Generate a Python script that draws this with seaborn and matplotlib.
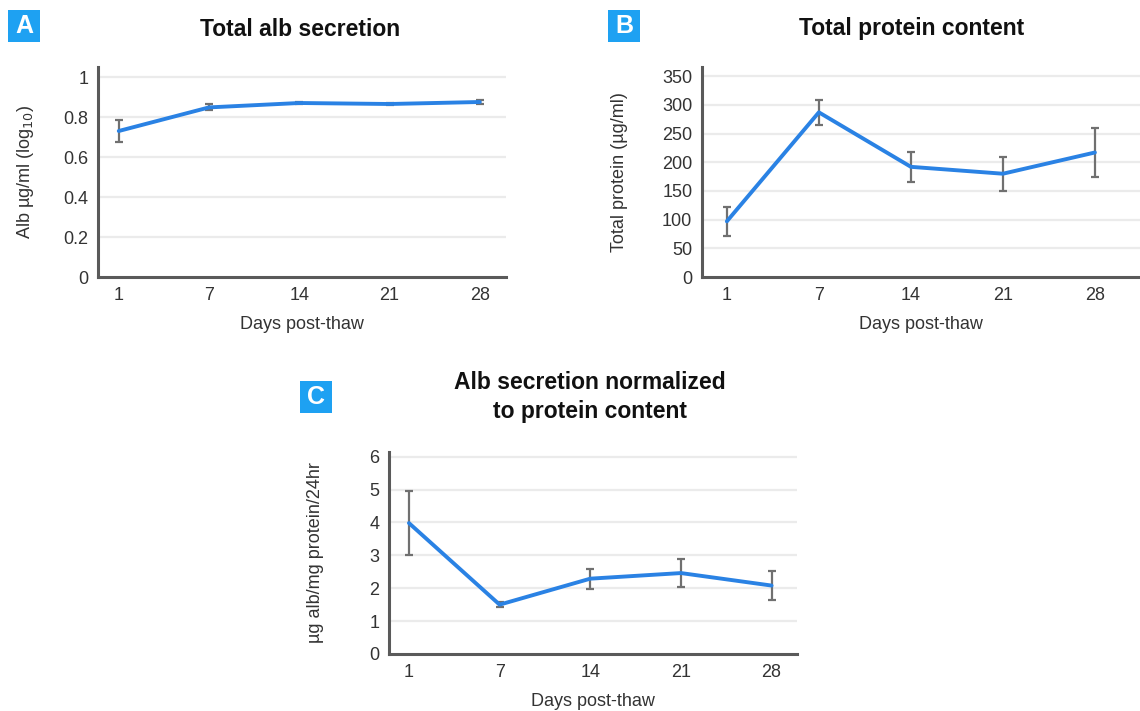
import seaborn as sns
import matplotlib.pyplot as plt
import pandas as pd

days = ['1', '7', '14', '21', '28']

alb_mean = [0.73, 0.848, 0.87, 0.865, 0.875]
alb_err = [0.055, 0.015, 0.004, 0.006, 0.012]

prot_mean = [97, 287, 192, 180, 217]
prot_err = [25, 22, 26, 30, 42]

norm_mean = [3.98, 1.5, 2.29, 2.46, 2.08]
norm_err = [0.98, 0.07, 0.3, 0.43, 0.44]

sns.set_theme(style='white')
plt.rcParams['font.family'] = ['Liberation Sans', 'DejaVu Sans']

W, H = 1140, 711
fig = plt.figure(figsize=(W / 100, H / 100), dpi=100)

line_col = '#2a82e4'
err_col = '#707070'
spine_col = '#5a5a5a'
text_col = '#333333'
box_col = '#1ea1f2'


def px_axes(left, top, right, bottom):
    return fig.add_axes([left / W, 1 - bottom / H, (right - left) / W, (bottom - top) / H])


def panel(ax, mean, err, yticks, ylim, xlim, ylabel, ylabel_x):
    df = pd.DataFrame({'day': days, 'val': mean})
    for t in yticks[1:]:
        ax.axhline(t, color='#ebebeb', lw=1.6, zorder=0)
    ax.errorbar(range(len(days)), mean, yerr=err, fmt='none', ecolor=err_col,
                elinewidth=1.6, capsize=3, capthick=1.6, zorder=2)
    sns.lineplot(data=df, x='day', y='val', ax=ax, color=line_col, lw=2.8,
                 sort=False, zorder=3)
    ax.set_xlim(*xlim)
    ax.set_ylim(*ylim)
    ax.set_yticks(yticks)
    ax.set_yticklabels([f'{t:g}' for t in yticks])
    for s in ['top', 'right']:
        ax.spines[s].set_visible(False)
    for s in ['left', 'bottom']:
        ax.spines[s].set_color(spine_col)
        ax.spines[s].set_linewidth(2.2)
    ax.tick_params(axis='both', length=0, labelsize=13, labelcolor=text_col, pad=7)
    ax.set_xlabel('Days post-thaw', fontsize=13, color=text_col, labelpad=9)
    ax.set_ylabel(ylabel, fontsize=13, color=text_col)
    ax.yaxis.set_label_coords(ylabel_x, 0.5)


def letter(txt, x0, y0, size=32):
    fig.patches.append(plt.Rectangle((x0 / W, 1 - (y0 + size) / H), size / W, size / H,
                                     transform=fig.transFigure, fc=box_col, ec='none'))
    fig.text((x0 + size / 2) / W, 1 - (y0 + size / 2) / H, txt, ha='center', va='center',
             color='white', fontsize=18, fontweight='bold')


# A
axA = px_axes(98, 67, 506, 277)
panel(axA, alb_mean, alb_err, [0, 0.2, 0.4, 0.6, 0.8, 1], (0, 1.05), (-0.23, 4.29),
      'Alb µg/ml (log$_{10}$)', -0.153)
fig.text(300 / W, 1 - 30 / H, 'Total alb secretion', ha='center', va='center',
         fontsize=16.5, fontweight='bold', color='#111111')
letter('A', 8, 10)

# B
axB = px_axes(702, 67, 1140, 277)
panel(axB, prot_mean, prot_err, [0, 50, 100, 150, 200, 250, 300, 350], (0, 366),
      (-0.27, 4.49), 'Total protein (µg/ml)', -0.17)
fig.text(912 / W, 1 - 28 / H, 'Total protein content', ha='center', va='center',
         fontsize=16.5, fontweight='bold', color='#111111')
letter('B', 608, 10)

# C
axC = px_axes(389, 452, 797, 654)
panel(axC, norm_mean, norm_err, [0, 1, 2, 3, 4, 5, 6], (0, 6.14), (-0.22, 4.28),
      'µg alb/mg protein/24hr', -0.16)
fig.text(590 / W, 1 - 397 / H, 'Alb secretion normalized\nto protein content',
         ha='center', va='center', fontsize=16.5, fontweight='bold', color='#111111',
         linespacing=1.3)
letter('C', 300, 381)

fig.savefig('out.png', dpi=100)
